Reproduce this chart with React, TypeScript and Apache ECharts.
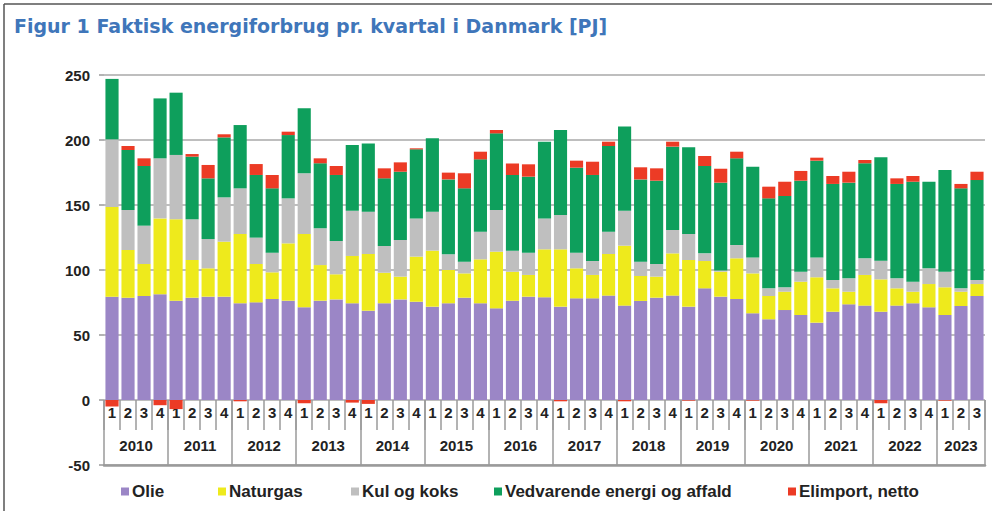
import React, { useEffect, useRef } from "react";
import * as echarts from "echarts";

const quarters: string[] = [];
const years = [2010, 2011, 2012, 2013, 2014, 2015, 2016, 2017, 2018, 2019, 2020, 2021, 2022, 2023];
years.forEach((y) => {
  const n = y === 2023 ? 3 : 4;
  for (let q = 1; q <= n; q++) quarters.push(`${y} K${q}`);
});

const olie = [79.5, 78.7, 80, 81.3, 76.4, 78.7, 79.5, 79.5, 74.4, 75.1, 77.7, 76.4, 71.3, 76.4, 77.4, 74.4, 68.7, 74.4, 77.4, 75.6, 71.8, 74.4, 78.7, 74.4, 70.5, 76.4, 79.5, 79, 71.8, 78.2, 78.2, 80.3, 72.6, 76.2, 78.7, 80.3, 71.8, 85.9, 79.5, 77.7, 66.7, 62.1, 69.2, 65.4, 59.5, 67.9, 73.6, 72.6, 67.9, 72.6, 74.4, 71.3, 65.4, 72.3, 80];
const naturgas = [69, 36.7, 24.6, 58.4, 62.6, 29, 21.8, 42.3, 53.3, 29.5, 20.5, 44.1, 56.4, 27.4, 19.3, 36.4, 43.6, 23.5, 17.5, 34.7, 43.1, 25.6, 18.7, 33.8, 43.6, 22.3, 16.7, 36.9, 44.1, 23.1, 18, 32, 46.1, 19.2, 16.2, 32.5, 35.9, 21, 19.2, 31.3, 30.7, 17.9, 14.1, 25.6, 34.9, 18, 9.7, 23.6, 24.9, 13.3, 8.9, 17.9, 21.3, 11, 9.2];
const kul = [52, 30.8, 29.5, 46.2, 49.5, 31.3, 22.5, 34.1, 35.1, 20.3, 15.1, 34.6, 46.7, 28.3, 25.6, 34.8, 32.6, 20.6, 28.2, 29.4, 30, 12.1, 9, 21.3, 32.1, 16.2, 17.1, 23.8, 26.4, 12, 10.7, 17.2, 26.9, 11, 9.7, 18, 20, 5.9, 1, 10.2, 12.3, 5.9, 3.4, 7.7, 15.3, 6.4, 10.3, 12.8, 14.4, 7.7, 7.7, 12.1, 12, 2.6, 3.1];
const vedvarende = [46.5, 46.1, 45.9, 46.1, 47.9, 48.2, 46.7, 46.1, 48.7, 48.2, 49.5, 48.7, 50, 50, 50.8, 50.6, 52.5, 52, 52.5, 53.1, 56.4, 57.6, 56.4, 55.6, 58.9, 58.2, 58.5, 59, 65.4, 65.4, 66.2, 65.9, 64.7, 63.3, 64.1, 64.1, 66.7, 67.2, 67.5, 66.7, 69.8, 69.2, 70.2, 70, 74.4, 73.9, 73.6, 73.1, 79.5, 72.6, 76.9, 66.6, 78.2, 76.9, 76.9];
const elimport = [-5, 3.1, 5.9, -4, -7, 2, 10.3, 2.4, -1, 8.4, 10.3, 2.6, -2.5, 3.8, 6.9, -2, -3, 7.7, 7.2, 0.8, 0, 5.2, 11.6, 5.9, 2.6, 8.9, 9.5, 0, -1, 5.4, 10.2, 3.3, -1, 9.3, 9.5, 3.8, -0.5, 7.7, 10.7, 5.1, -0.5, 9, 11, 7.5, 2.3, 6.1, 8.4, 2.5, -2.5, 4.3, 4.4, 0, -0.5, 3.4, 6.4];

const seriesNames = ["Olie", "Naturgas", "Kul og koks", "Vedvarende energi og affald", "Elimport, netto"];
const seriesColors = ["#9b86c6", "#eeea1c", "#bfbfbf", "#0e9f5c", "#ec3b25"];
const seriesData = [olie, naturgas, kul, vedvarende, elimport];
const legendLeft = [116, 213, 346, 489, 783];

// half-quarter positions used for the year row (0..110)
const yearSlots: string[] = [];
for (let i = 0; i <= 110; i++) {
  let s = "";
  if (i % 8 === 4 && i < 104) s = String(2010 + (i - 4) / 8);
  if (i === 107) s = "2023";
  yearSlots.push(s);
}

const FONT = "'Liberation Sans', Arial, sans-serif";

export default function App() {
  const ref = useRef<HTMLDivElement>(null);
  useEffect(() => {
    if (!ref.current) return;
    const chart = echarts.init(ref.current, undefined, { renderer: "svg" });
    const option: any = {
      animation: false,
      backgroundColor: "#ffffff",
      title: {
        text: "Figur 1 Faktisk energiforbrug pr. kvartal i Danmark [PJ]",
        left: 9,
        top: 11,
        textStyle: { fontFamily: "'DejaVu Sans', Verdana, sans-serif", fontWeight: "bold", fontSize: 19, color: "#3f76ba" },
      },
      legend: seriesNames.map((n, i) => ({
        data: [n],
        left: legendLeft[i],
        top: 478,
        icon: "rect",
        itemWidth: 8,
        itemHeight: 8,
        itemGap: 3,
        selectedMode: false,
        textStyle: { fontFamily: FONT, fontWeight: "bold", fontSize: 17, color: "#222", padding: [0, 0, 0, -2] },
      })),
      grid: { left: 104, right: 7, top: 75, bottom: 46, containLabel: false },
      xAxis: [
        {
          type: "category",
          data: quarters,
          position: "bottom",
          offset: -65,
          axisLine: { show: false, onZero: false },
          axisTick: { show: true, length: 30, lineStyle: { color: "#9a9a9a", width: 1.5 } },
          axisLabel: {
            margin: 5,
            interval: 0,
            formatter: (v: string) => v.slice(-1),
            fontFamily: FONT,
            fontWeight: "bold",
            fontSize: 15,
            color: "#222",
          },
          splitLine: { show: false },
        },
        {
          type: "category",
          data: yearSlots,
          boundaryGap: false,
          position: "bottom",
          axisLine: { show: true, onZero: false, lineStyle: { color: "#9a9a9a", width: 2.5 } },
          axisTick: {
            show: true,
            inside: true,
            length: 65,
            interval: (i: number) => i % 8 === 0 || i === 110,
            lineStyle: { color: "#9a9a9a", width: 1.5 },
          },
          axisLabel: {
            inside: true,
            margin: 12,
            interval: 0,
            fontFamily: FONT,
            fontWeight: "bold",
            fontSize: 15,
            color: "#222",
          },
          splitLine: { show: false },
        },
      ],
      yAxis: {
        type: "value",
        min: -50,
        max: 250,
        interval: 50,
        axisLine: { show: false },
        axisTick: { show: true, length: 5, lineStyle: { color: "#9a9a9a", width: 1.5 } },
        axisLabel: { margin: 14, fontFamily: FONT, fontWeight: "bold", fontSize: 15, color: "#222" },
        splitLine: { show: true, lineStyle: { color: "#a8a8a8", width: 1.5 } },
      },
      series: seriesNames.map((n, i) => ({
        name: n,
        type: "bar",
        stack: "total",
        xAxisIndex: 0,
        data: seriesData[i],
        barCategoryGap: "18%",
        itemStyle: { color: seriesColors[i] },
      })),
      graphic: [
        { type: "line", shape: { x1: 4, y1: 4, x2: 992, y2: 4 }, style: { stroke: "#555", lineWidth: 1.5 } },
        { type: "line", shape: { x1: 4, y1: 4, x2: 4, y2: 511 }, style: { stroke: "#555", lineWidth: 1.5 } },
      ],
    };
    chart.setOption(option);
    return () => chart.dispose();
  }, []);
  return <div ref={ref} style={{ position: "fixed", left: 0, top: 0, width: 992, height: 511 }} />;
}
